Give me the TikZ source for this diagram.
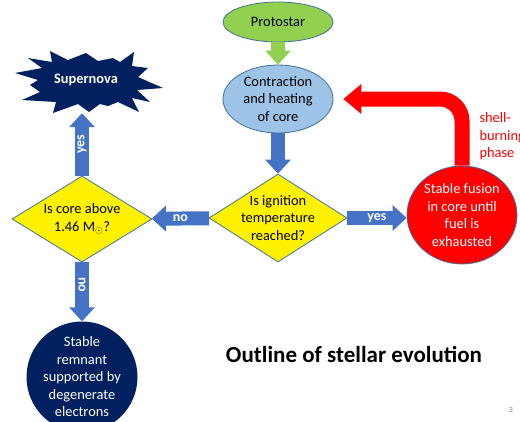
\documentclass[tikz,border=0pt]{standalone}
\usepackage{fontspec}
\setmainfont{Carlito}
\usetikzlibrary{positioning,shapes.geometric,arrows.meta}

\definecolor{protogreen}{HTML}{92D050}
\definecolor{corefill}{HTML}{9DC3E6}
\definecolor{shapeline}{HTML}{41719C}
\definecolor{flowblue}{HTML}{4472C4}
\definecolor{starnavy}{HTML}{002060}

\tikzset{
  txt/.style={font=\fontsize{14.4}{17.5}\selectfont, align=center},
  oval/.style={txt, ellipse, draw=shapeline, line width=0.8pt, inner sep=0pt},
  decision/.style={txt, diamond, draw=shapeline, line width=0.8pt, fill=yellow, inner sep=0pt},
  flow/.style={line width=14pt, flowblue, -{Triangle[length=14pt,width=25pt]}},
  flowlabel/.style={font=\fontsize{14}{14}\selectfont\bfseries, text=white, inner sep=0pt}
}

\begin{document}
\begin{tikzpicture}[x=1pt,y=-1pt]
    \useasboundingbox (0,0) rectangle (520,421);
    \clip (0,0) rectangle (520,421);

    \node[oval, fill=protogreen, minimum width=110pt, minimum height=40pt] at (278,22) (proto) {Protostar};
    \node[oval, fill=corefill, minimum width=110pt, minimum height=68pt, inner ysep=-4pt] at (278,99) (contract) {Contraction\\and heating\\of core};
    \node[decision, minimum width=138pt, minimum height=88pt, aspect=1.57, inner sep=-3pt] at (278,218) (ignite) {Is ignition\\temperature\\reached?};
    \node[oval, fill=red, text=white, minimum width=110pt, minimum height=98pt, inner sep=-2pt] at (462,215) (fusion) {Stable fusion\\in core until\\fuel is\\exhausted};
    \node[decision, minimum width=140pt, minimum height=86pt, aspect=1.63] at (82,219) (massive) {Is core above\\1.46 M$_\odot$?};
    \node[txt, circle, fill=starnavy, text=white, minimum size=111pt, inner sep=-6pt] at (82,377) (remnant) {Stable\\remnant\\supported by\\degenerate\\electrons};

    % supernova burst
    \fill[starnavy] (15,73) -- (42,68) -- (28,58) -- (52,62) -- (50,51) -- (68,60) -- (86,53) -- (98,61)
        -- (113,58) -- (120,62) -- (134,52) -- (132,66) -- (148,68) -- (138,77) -- (163,88) -- (137,90)
        -- (150,102) -- (132,98) -- (139,112) -- (118,102) -- (108,106) -- (100,104) -- (89,112) -- (78,104)
        -- (53,113) -- (56,102) -- (22,100) -- (40,92) -- (30,85) -- (38,80) -- cycle;
    \node[txt, font=\fontsize{14.4}{17.5}\selectfont\bfseries, text=white, minimum height=66pt] at (86,80) (nova) {Supernova};

    \draw[flow, protogreen] (proto) -- (contract);
    \draw[flow] (contract) -- (ignite);
    \draw[flow] (ignite) -- (massive) node[midway, flowlabel] {no};
    \draw[flow] (ignite.east) -- (ignite.east -| fusion.west) node[midway, flowlabel] {yes};
    \draw[flow] (massive) -- (massive |- nova.south) node[midway, flowlabel, rotate=90] {yes};
    \draw[flow] (massive) -- (remnant) node[pos=0.38, flowlabel, rotate=-90] {no};
    \draw[line width=15pt, red, rounded corners=22pt, -{Triangle[length=18pt,width=29pt]}, shorten >=10pt]
        (fusion) |- (contract.east);

    \node[txt, text=red, align=left, anchor=north west] at (476,109) (shell) {shell-\\burning\\phase};
    \node[font=\fontsize{23}{27}\selectfont\bfseries] at (354,354) (title) {Outline of stellar evolution};
    \node[font=\fontsize{8}{8}\selectfont, text=gray] at (511,410) (pagenum) {3};
\end{tikzpicture}
\end{document}
